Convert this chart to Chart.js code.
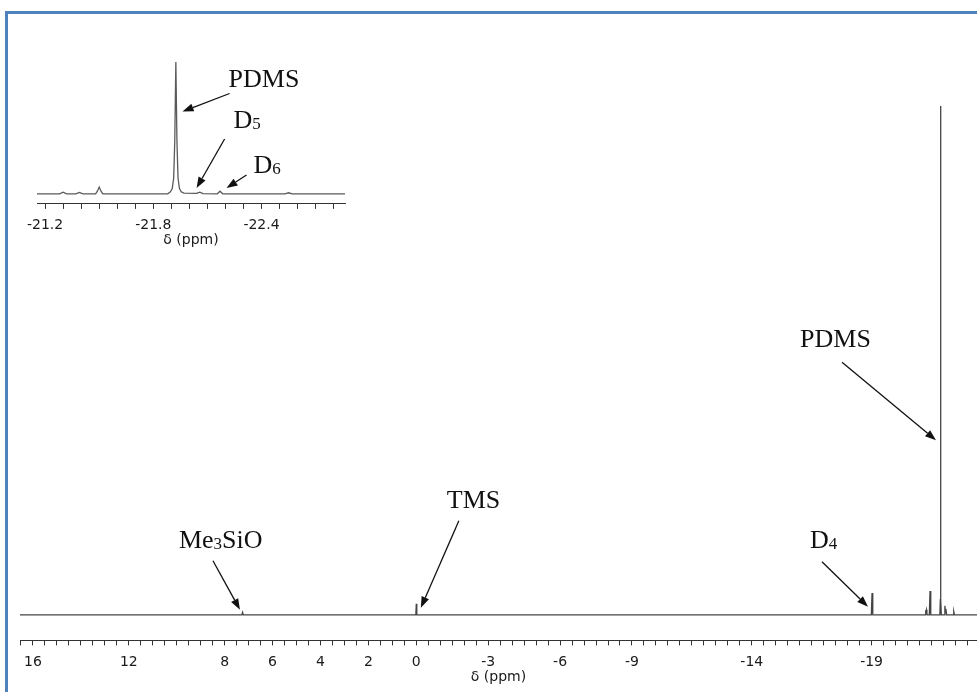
<!DOCTYPE html>
<html>
<head>
<meta charset="utf-8">
<script src="https://cdn.jsdelivr.net/npm/chart.js@4/dist/chart.umd.min.js"></script>
<style>
  html, body { margin: 0; padding: 0; background: #fff; overflow: hidden; }
  #wrap { position: relative; width: 977px; height: 692px; }
  #frame { position: absolute; left: 5px; top: 11px; width: 1000px; height: 700px;
           border-top: 3px solid #4f81bd; border-left: 3px solid #4f81bd; }
  canvas { position: absolute; left: 0; top: 0; }
</style>
</head>
<body>
<div id="wrap">
  <div id="frame"></div>
  <canvas id="mainChart" width="977" height="692"></canvas>
  <canvas id="insetChart" width="360" height="260"></canvas>
</div>
<script>
// 29Si NMR 스펙트럼 - 전체 영역
const shiftPpm = [16.54, 7.28, 7.25, 7.22, 0.02, 0.0, -0.02, -18.99, -19.02, -19.05,
  -21.23, -21.25, -21.27, -21.29, -21.31, -21.33, -21.41, -21.44, -21.47,
  -21.85, -21.87, -21.88, -21.89, -21.91,
  -22.03, -22.06, -22.08, -22.10, -22.13, -22.40, -22.43, -22.46, -23.40];
const intensity = [0, 0, 0.5, 0, 0, 2.2, 0, 0, 4.3, 0,
  0, 0.9, 0.3, 1.0, 0.2, 0, 0, 4.7, 0,
  0, 3, 100, 3, 0,
  0, 1.8, 0.6, 1.2, 0, 0, 0.65, 0, 0];
const mainTickLabels = [16, 12, 8, 6, 4, 2, 0, -3, -6, -9, -14, -19];

// 확대 영역 (-21.2 ~ -22.8 ppm)
const insetPpm = [-21.155, -21.28, -21.30, -21.32, -21.37, -21.39, -21.41, -21.48, -21.49, -21.50, -21.51, -21.52,
  -21.88, -21.895, -21.905, -21.913, -21.919, -21.925, -21.931, -21.937, -21.945, -21.955, -21.97,
  -22.04, -22.058, -22.075, -22.155, -22.17, -22.185, -22.53, -22.55, -22.57, -22.863];
const insetIntensity = [0, 0, 1.3, 0, 0, 1.1, 0, 0, 2, 5.1, 2, 0,
  0, 1.5, 4, 12, 40, 100, 40, 12, 4, 1.5, 0.5,
  0.3, 1.3, 0.2, 0, 2, 0, 0, 0.8, 0, 0];
const insetTickLabels = [-21.2, -21.8, -22.4];

// 화살표 주석: 화살표 끝은 데이터 좌표, 시작점/글자는 끝에서의 오프셋
const mainNotes = [
  { text: 'PDMS', sub: '', after: '', x: -21.69, y: 34.3, from: [-94, -78], at: [-136, -93] },
  { text: 'TMS', sub: '', after: '', x: -0.19, y: 1.4, from: [38, -87], at: [26, -100] },
  { text: 'Me', sub: '3', after: 'SiO', x: 7.36, y: 1.0, from: [-27, -49], at: [-61, -62] },
  { text: 'D', sub: '4', after: '', x: -18.85, y: 1.6, from: [-46, -45], at: [-58, -59] },
];
const insetNotes = [
  { text: 'PDMS', sub: '', after: '', x: -21.962, y: 62.4, from: [47, -18], at: [46, -25] },
  { text: 'D', sub: '5', after: '', x: -22.04, y: 4.4, from: [28, -49], at: [37, -60] },
  { text: 'D', sub: '6', after: '', x: -22.206, y: 4.4, from: [20, -13], at: [27, -15] },
];

const tickFont = { family: 'DejaVu Sans', size: 14 };

function arrowPlugin(notes) {
  return {
    id: 'arrows',
    afterDatasetsDraw(chart) {
      const ctx = chart.ctx;
      const xs = chart.scales.x, ys = chart.scales.y;
      ctx.save();
      ctx.strokeStyle = '#111';
      ctx.fillStyle = '#111';
      ctx.lineWidth = 1.3;
      notes.forEach((n) => {
        const tx = xs.getPixelForValue(n.x), ty = ys.getPixelForValue(n.y);
        const sx = tx + n.from[0], sy = ty + n.from[1];
        const ang = Math.atan2(ty - sy, tx - sx);
        const hl = 11, hw = 4;
        const bx = tx - hl * Math.cos(ang), by = ty - hl * Math.sin(ang);
        ctx.beginPath();
        ctx.moveTo(sx, sy);
        ctx.lineTo(bx, by);
        ctx.stroke();
        ctx.beginPath();
        ctx.moveTo(tx, ty);
        ctx.lineTo(bx + hw * Math.sin(ang), by - hw * Math.cos(ang));
        ctx.lineTo(bx - hw * Math.sin(ang), by + hw * Math.cos(ang));
        ctx.closePath();
        ctx.fill();
        // 라벨
        let lx = tx + n.at[0];
        const ly = ty + n.at[1];
        ctx.textBaseline = 'alphabetic';
        ctx.textAlign = 'left';
        ctx.font = '26px "Liberation Serif"';
        ctx.fillText(n.text, lx, ly);
        lx += ctx.measureText(n.text).width;
        if (n.sub) {
          ctx.font = '17px "Liberation Serif"';
          ctx.fillText(n.sub, lx, ly + 1);
          lx += ctx.measureText(n.sub).width;
        }
        if (n.after) {
          ctx.font = '26px "Liberation Serif"';
          ctx.fillText(n.after, lx, ly);
        }
      });
      ctx.restore();
    },
  };
}

function keepSteps(step) {
  return (scale) => {
    scale.ticks = scale.ticks.filter((t) => Math.abs(t.value / step - Math.round(t.value / step)) < 1e-6);
  };
}

function xScale(min, max, step, labels) {
  return {
    type: 'linear', reverse: true, min, max,
    afterBuildTicks: keepSteps(step),
    ticks: {
      stepSize: step, autoSkip: false, includeBounds: false, maxRotation: 0, padding: 8.5,
      color: '#1a1a1a', font: tickFont,
      callback: (v) => {
        const r = Math.round(v * 10) / 10;
        return labels.some((l) => Math.abs(l - r) < 1e-6) ? String(r) : '';
      },
    },
    grid: { drawOnChartArea: false, drawTicks: true, tickLength: 5, color: '#333' },
    border: { display: true, color: '#333', width: 1 },
    title: { display: true, text: 'δ (ppm)', color: '#1a1a1a', font: tickFont, padding: { top: -10.5, bottom: 0 } },
  };
}

new Chart(document.getElementById('mainChart'), {
  type: 'line',
  data: {
    datasets: [{
      data: shiftPpm.map((p, i) => ({ x: p, y: intensity[i] })),
      borderColor: '#444', borderWidth: 1.3, pointRadius: 0, tension: 0, fill: false,
    }],
  },
  options: {
    responsive: false, animation: false,
    layout: { padding: { left: 20, right: 0, top: 20, bottom: 6.5 } },
    plugins: { legend: { display: false }, tooltip: { enabled: false } },
    scales: {
      x: xScale(-23.40, 16.54, 0.5, mainTickLabels),
      y: { display: false, min: -5.02, max: 116.9 },
    },
  },
  plugins: [arrowPlugin(mainNotes)],
});

new Chart(document.getElementById('insetChart'), {
  type: 'line',
  data: {
    datasets: [{
      data: insetPpm.map((p, i) => ({ x: p, y: insetIntensity[i] })),
      borderColor: '#5a5a5a', borderWidth: 1.3, pointRadius: 0, tension: 0, fill: false,
    }],
  },
  options: {
    responsive: false, animation: false,
    layout: { padding: { left: 37, right: 15, top: 40, bottom: 11 } },
    plugins: { legend: { display: false }, tooltip: { enabled: false } },
    scales: {
      x: xScale(-22.863, -21.155, 0.1, insetTickLabels),
      y: { display: false, min: -7.63, max: 116.6 },
    },
  },
  plugins: [arrowPlugin(insetNotes)],
});
</script>
</body>
</html>
